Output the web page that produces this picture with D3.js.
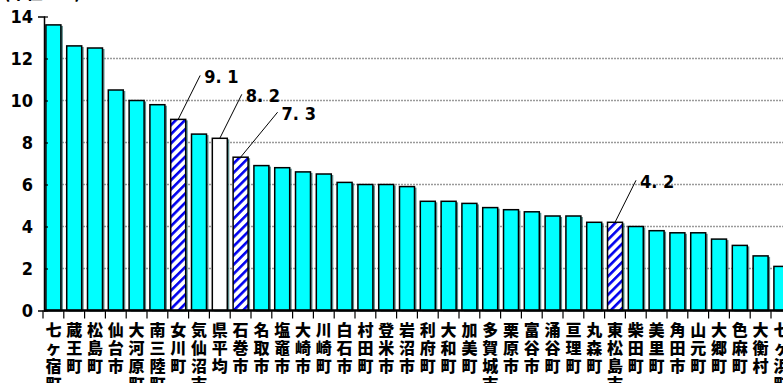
<!DOCTYPE html>
<html>
<head>
<meta charset="utf-8">
<script src="https://cdn.jsdelivr.net/npm/d3@7"></script>
<style>
  body { margin: 0; background: #fff; }
  svg { display: block; overflow: hidden; }
  .num { font-family: "DejaVu Sans", sans-serif; font-stretch: condensed; font-weight: bold; }
</style>
</head>
<body>
<div id="chart"></div>
<script>
// donnees
const categories = ["七ヶ宿町","蔵王町","松島町","仙台市","大河原町","南三陸町","女川町","気仙沼市","県平均","石巻市",
  "名取市","塩竈市","大崎市","川崎町","白石市","村田町","登米市","岩沼市","利府町","大和町",
  "加美町","多賀城市","栗原市","富谷市","涌谷町","亘理町","丸森町","東松島市","柴田町","美里町",
  "角田市","山元町","大郷町","色麻町","大衡村","七ヶ浜町"];
const values = [13.6,12.6,12.5,10.5,10.0,9.8,9.1,8.4,8.2,7.3,
  6.9,6.8,6.6,6.5,6.1,6.0,6.0,5.9,5.2,5.2,
  5.1,4.9,4.8,4.7,4.5,4.5,4.2,4.2,4.0,3.8,
  3.7,3.7,3.4,3.1,2.6,2.1];
const hatched = ["女川町","石巻市","東松島市"];
const average = ["県平均"];
const yTicks = [0,2,4,6,8,10,12,14];
// etiquettes avec trait de rappel (decalage en px depuis le haut de la barre)
const callouts = [
  {name:"女川町", dx:22, dy:-44},
  {name:"県平均", dx:22, dy:-44},
  {name:"石巻市", dx:37, dy:-45},
  {name:"東松島市", dx:21, dy:-42}
];

const data = categories.map((c, i) => ({name: c, value: values[i]}));

const W = 783, H = 383;
const svg = d3.select("#chart").append("svg")
  .attr("width", W).attr("height", H);

const defs = svg.append("defs");
const pat = defs.append("pattern")
  .attr("id", "hatch").attr("patternUnits", "userSpaceOnUse")
  .attr("width", 6.5).attr("height", 6.5)
  .attr("patternTransform", "rotate(-45)");
pat.append("rect").attr("width", 6.5).attr("height", 6.5).attr("fill", "#fff");
pat.append("rect").attr("width", 6.5).attr("height", 2.6).attr("fill", "#0000ee");

// echelles
const step = 20.8;
const x = d3.scaleBand().domain(categories)
  .range([43, 43 + categories.length * step])
  .paddingInner(0.28).paddingOuter(0.14);
const xCell = d3.scaleBand().domain(categories)
  .range([43, 43 + categories.length * step]).padding(0);
const y = d3.scaleLinear().domain([0, 14]).range([310.5, 16.5]);

// titre coupe en haut
svg.append("text")
  .attr("x", 4).attr("y", -1.5)
  .attr("font-family", "Noto Sans CJK JP").attr("font-weight", 900)
  .attr("font-size", 16).text("(単位：%)");

// grille
svg.append("g").selectAll("line")
  .data(yTicks.filter(t => t > 0 && t < 14))
  .join("line")
  .attr("x1", 44).attr("x2", W)
  .attr("y1", d => y(d)).attr("y2", d => y(d))
  .attr("stroke", "#9a9a9a").attr("stroke-width", 1.4)
  .attr("stroke-dasharray", "2,1");

// ombres
svg.append("g").selectAll("rect")
  .data(data).join("rect")
  .attr("x", d => x(d.name) + 2)
  .attr("y", d => y(d.value) + 1)
  .attr("width", x.bandwidth())
  .attr("height", d => y(0) - y(d.value))
  .attr("fill", "#2f6f6f").attr("opacity", 0.8);

// barres
svg.append("g").selectAll("rect")
  .data(data).join("rect")
  .attr("x", d => x(d.name))
  .attr("y", d => y(d.value))
  .attr("width", x.bandwidth())
  .attr("height", d => y(0) - y(d.value))
  .attr("fill", d => hatched.includes(d.name) ? "url(#hatch)" : average.includes(d.name) ? "#fff" : "#00ffff")
  .attr("stroke", "#000").attr("stroke-width", 1.5);

// axe Y
const yAxis = svg.append("g")
  .attr("transform", "translate(44,0)")
  .call(d3.axisLeft(y).tickValues(yTicks).tickSize(6).tickPadding(5));
yAxis.select(".domain").attr("stroke-width", 1.5);
yAxis.selectAll(".tick line").attr("x2", 4).attr("stroke-width", 1.2);
yAxis.selectAll(".tick text")
  .attr("class", "num").attr("font-family", null)
  .attr("font-size", 18).attr("fill", "#000").attr("dy", "0.36em");

// axe X (ligne de base + graduations entre les barres)
svg.append("line")
  .attr("x1", 44).attr("x2", W).attr("y1", y(0)).attr("y2", y(0))
  .attr("stroke", "#000").attr("stroke-width", 2.5);
svg.append("g").selectAll("line")
  .data(categories).join("line")
  .attr("x1", d => xCell(d)).attr("x2", d => xCell(d))
  .attr("y1", y(0)).attr("y2", y(0) + 8)
  .attr("stroke", "#000").attr("stroke-width", 1.2);

// etiquettes verticales
const lab = svg.append("g").selectAll("text")
  .data(categories).join("text")
  .attr("font-family", "Noto Sans CJK JP").attr("font-weight", 900)
  .attr("font-size", 16).attr("text-anchor", "middle");
lab.each(function(d) {
  const t = d3.select(this);
  Array.from(d).forEach((ch, i) => {
    t.append("tspan")
      .attr("x", x(d) + x.bandwidth() / 2)
      .attr("y", 336 + i * 18)
      .text(ch);
  });
});

// rappels
const fmt = d3.format(".1f");
callouts.forEach(c => {
  const d = data.find(e => e.name === c.name);
  const x0 = x(d.name) + x.bandwidth() / 2, y0 = y(d.value);
  svg.append("line")
    .attr("x1", x0).attr("y1", y0)
    .attr("x2", x0 + c.dx).attr("y2", y0 + c.dy)
    .attr("stroke", "#000").attr("stroke-width", 1);
  svg.append("text")
    .attr("class", "num")
    .attr("x", x0 + c.dx + 4).attr("y", y0 + c.dy + 8)
    .attr("font-size", 18)
    .text(fmt(d.value).replace(".", ". "));
});
</script>
</body>
</html>
